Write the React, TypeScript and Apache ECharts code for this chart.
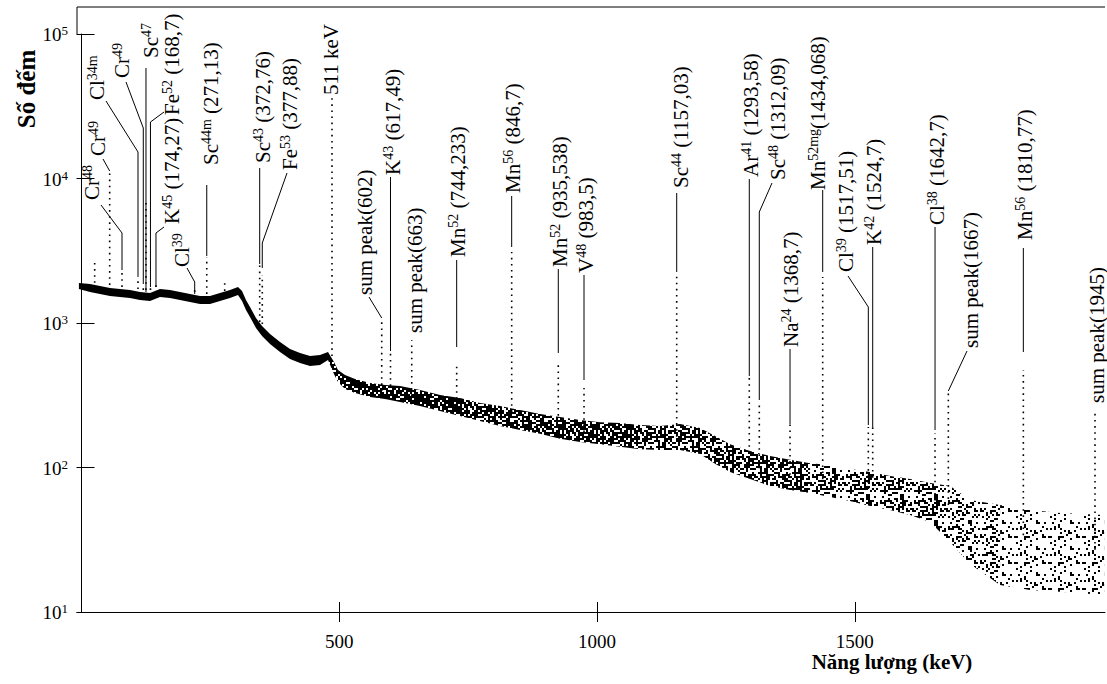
import React, { useEffect, useRef } from "react";
import * as echarts from "echarts";

// ---------- data ----------
// continuum band (energy in axis units, lower / upper envelope of the noisy counts)
const bandEnergy = [-5, 16.5, 35.9, 55.3, 74.7, 94.1, 113.5, 132.9, 152.3, 171.7, 191.1, 210.5, 229.9, 249.3, 268.7, 288.1, 303.6, 311.4, 319.1, 326.9, 338.5, 350.2, 365.7, 385.1, 404.5, 423.9, 443.3, 462.7, 478.2, 489.8, 497.6, 511.2, 530.6, 559.7, 588.8, 617.9, 656.7, 695.5, 734.3, 773.1, 811.9, 850.7, 889.5, 928.3, 967.1, 1005.9, 1044.7, 1083.5, 1122.3, 1161.1, 1199.9, 1229, 1258.1, 1296.9, 1335.7, 1374.5, 1413.3, 1452.1, 1490.9, 1529.7, 1568.5, 1607.3, 1646.1, 1684.9, 1723.7, 1781.9, 1840.1, 1898.3, 1983.7];
const bandHigh = [1891, 1861, 1803, 1746, 1719, 1692, 1639, 1613, 1719, 1692, 1639, 1587, 1538, 1538, 1613, 1692, 1775, 1665, 1443, 1290, 1083, 953, 839, 739, 661, 620, 591, 600, 630, 537, 473, 437, 410, 384, 372, 366, 344, 318, 303, 280, 266, 250, 235, 224, 213, 206, 203, 197, 194, 200, 188, 165, 145, 130, 120, 113, 107, 104, 97.6, 93.1, 87.4, 83.3, 78.1, 74.5, 59.6, 55.0, 50.8, 48.4, 46.9];
const bandLow = [1719, 1639, 1587, 1538, 1513, 1489, 1443, 1420, 1513, 1489, 1443, 1398, 1354, 1354, 1420, 1489, 1562, 1420, 1230, 1100, 923, 813, 716, 630, 563, 529, 504, 512, 555, 444, 391, 349, 328, 307, 298, 284, 266, 246, 227, 210, 194, 182, 171, 158, 150, 145, 139, 134, 132, 132, 124, 106, 93.1, 83.3, 74.5, 69.9, 66.6, 62.5, 58.6, 54.1, 50.8, 46.9, 42.0, 30.5, 21.5, 15.4, 14.2, 13.8, 13.1];

// peaks: position (axis units), top count, count of the continuum under it
const peakEnergy = [25.6, 54.7, 78.6, 109.6, 119.9, 125.1, 133.8, 144.5, 219.6, 243, 277.8, 345.7, 350.7, 485.9, 582.4, 599.4, 640.6, 727.8, 834.5, 924.9, 974.8, 1154.6, 1295.4, 1314.8, 1374.4, 1437.8, 1526.3, 1534.8, 1655.7, 1681.5, 1827, 1966];
const peakTop = [2600, 11100, 2250, 2010, 1830, 7100, 1770, 1860, 1690, 2860, 1920, 2600, 2150, 36100, 1050, 620, 760, 530, 3100, 530, 355, 2220, 423, 279, 203, 2080, 191, 191, 173, 328, 473, 238];
const peakBase = [1720, 1665, 1613, 1560, 1538, 1538, 1538, 1613, 1489, 1443, 1513, 923, 893, 591, 338, 333, 313, 271, 220, 188, 176, 163, 104, 99, 89, 83, 71, 70, 59, 55, 34, 27];

// annotations
const labelPeak = [2, 1, 3, 4, 5, 6, 7, 8, 9, 11, 12, 13, 14, 15, 16, 17, 18, 19, 20, 21, 22, 23, 24, 25, 26, 27, 28, 29, 30, 31];
const labelName = ["Cr", "Cr", "Cl", "Cr", "Sc", "Fe", "K", "Cl", "Sc", "Sc", "Fe", "511 keV", "sum peak(602)", "K", "sum peak(663)", "Mn", "Mn", "Mn", "V", "Sc", "Ar", "Sc", "Na", "Mn", "Cl", "K", "Cl", "sum peak(1667)", "Mn", "sum peak(1945)"];
const labelSup = ["48", "49", "34m", "49", "47", "52", "45", "39", "44m", "43", "53", "", "", "43", "", "52", "56", "52", "48", "44", "41", "48", "24", "52mg", "39", "42", "38", "", "56", ""];
const labelEnergy = ["", "", "", "", "", " (168,7)", " (174,27)", "", " (271,13)", " (372,76)", " (377,88)", "", "", " (617,49)", "", " (744,233)", " (846,7)", " (935,538)", " (983,5)", " (1157,03)", " (1293,58)", " (1312,09)", " (1368,7)", "(1434,068)", " (1517,51)", " (1524,7)", " (1642,7)", "", " (1810,77)", ""];

const xTicks = [500, 1000, 1500];
const xTitle = "Năng lượng (keV)";
const yTitle = "Số đếm";

// ---------- layout / style ----------
const labelPos: number[][] = [[91, 200], [97, 156], [96, 100], [121, 78], [150, 58], [171, 115], [171, 224], [181, 267], [210, 165], [262, 163], [289, 170], [330, 95], [364, 295], [392, 175], [414, 333], [457, 257], [512, 193], [559, 267], [585, 273], [680, 188], [750, 177], [777, 180], [790, 347], [817, 190], [845, 272], [873, 245], [936, 225], [970, 348], [1024, 240], [1096, 403]];
// null x = the x of the peak
const leaderPath: (number | null)[][][] = [
  [[101, 205], [null, 233], [null, 270]],
  [[103, 159], [null, 171]],
  [[106, 101], [null, 152], [null, 277]],
  [[126, 82], [null, 128], [null, 284]],
  [[null, 68], [null, 292]],
  [[164, 112], [null, 122], [null, 287]],
  [[164, 227], [null, 233], [null, 287]],
  [[187, 268], [null, 282], [null, 294]],
  [[null, 185], [null, 256]],
  [[null, 168], [null, 264]],
  [[287, 173], [null, 243], [null, 268]],
  [],
  [[369, 297], [null, 318]],
  [[null, 177], [null, 351]],
  [],
  [[null, 260], [null, 347]],
  [[null, 196], [null, 247]],
  [[null, 269], [null, 353]],
  [[null, 275], [null, 380]],
  [[null, 193], [null, 272]],
  [[null, 179], [null, 376]],
  [[772, 183], [null, 212], [null, 400]],
  [[null, 349], [null, 424]],
  [[null, 190], [null, 272]],
  [[848, 276], [null, 307], [null, 425]],
  [[null, 247], [null, 427]],
  [[null, 227], [null, 430]],
  [[967, 351], [null, 391]],
  [[null, 248], [null, 352]],
  [],
];
// band texture zones: first sample index of each zone and its ink density
const zoneStart = [0, 28, 38, 47, 56, 63, 65];
const zoneInk = [1, 0.8, 0.68, 0.55, 0.42, 0.3, 0.18];

const SERIF = "'Liberation Serif', 'Times New Roman', serif";
const X_MIN = -8.7;
const X_MAX = 1985.4;

function speckle(density: number) {
  if (density >= 1) return "#000";
  const w = 34, h = 26;
  const c = document.createElement("canvas");
  c.width = w; c.height = h;
  const g = c.getContext("2d")!;
  g.fillStyle = "#000";
  for (let i = 0; i < w; i += 2) {
    for (let j = 0; j < h; j += 2) {
      const hh = (((i + 1) * 2654435761) ^ ((j + 3) * 40503 * 97)) >>> 0;
      if ((hh % 997) / 997 < density) g.fillRect(i, j, 2, 2);
    }
  }
  return { image: c, repeat: "repeat" };
}

export default function App() {
  const ref = useRef<HTMLDivElement>(null);
  useEffect(() => {
    document.body.style.margin = "0";
    if (!ref.current) return;
    const chart = echarts.init(ref.current, undefined, { renderer: "svg" });
    const fills = zoneInk.map((d) => speckle(d));
    const commonX = { type: "value", min: X_MIN, max: X_MAX, splitLine: { show: false } };
    const commonY = { type: "log", logBase: 10, min: 10, max: 100000, splitLine: { show: false }, minorTick: { show: false } };
    chart.setOption({
      animation: false,
      backgroundColor: "#fff",
      grid: { left: 77, right: 2, top: 34, bottom: 72, containLabel: false },
      xAxis: [
        {
          ...commonX,
          axisLine: { show: true, lineStyle: { color: "#000", width: 1 } },
          axisTick: { show: true, inside: true, length: 10, customValues: xTicks, lineStyle: { color: "#000" } },
          axisLabel: { customValues: xTicks, formatter: (v: number) => String(v), color: "#000", fontFamily: SERIF, fontSize: 19, margin: 20 },
        },
        {
          ...commonX,
          position: "bottom",
          axisLine: { show: false },
          axisTick: { show: true, inside: false, length: 10, customValues: xTicks, lineStyle: { color: "#000" } },
          axisLabel: { show: false },
        },
      ],
      yAxis: [
        {
          ...commonY,
          axisLine: { show: true, lineStyle: { color: "#000", width: 1 } },
          axisTick: { show: true, inside: true, length: 13, lineStyle: { color: "#000" } },
          axisLabel: {
            color: "#000",
            margin: 9,
            formatter: (v: number) => `{b|10}{e|${Math.round(Math.log10(v))}}`,
            rich: {
              b: { fontSize: 19, fontFamily: SERIF, color: "#000", lineHeight: 20, verticalAlign: "bottom" },
              e: { fontSize: 13, fontFamily: SERIF, color: "#000", lineHeight: 13, verticalAlign: "top" },
            },
          },
        },
        {
          ...commonY,
          position: "left",
          axisLine: { show: false },
          axisTick: { show: true, inside: false, length: 5, lineStyle: { color: "#000" } },
          axisLabel: { show: false },
        },
      ],
      series: [
        {
          type: "custom",
          name: "continuum",
          silent: true,
          data: bandEnergy.map((e, i) => [e, bandLow[i], bandHigh[i]]),
          renderItem: (params: any, api: any) => {
            if (params.dataIndex !== 0) return null;
            const children: any[] = [];
            zoneStart.forEach((s, z) => {
              const end = z + 1 < zoneStart.length ? zoneStart[z + 1] : bandEnergy.length - 1;
              const pts: number[][] = [];
              for (let i = s; i <= end; i++) pts.push(api.coord([bandEnergy[i], bandHigh[i]]));
              for (let i = end; i >= s; i--) pts.push(api.coord([bandEnergy[i], bandLow[i]]));
              children.push({ type: "polygon", shape: { points: pts }, style: { fill: fills[z], stroke: null } });
            });
            return { type: "group", children };
          },
        },
        {
          type: "custom",
          name: "peaks",
          silent: true,
          data: peakEnergy.map((e, i) => [e, peakBase[i], peakTop[i]]),
          renderItem: (params: any, api: any) => {
            const a = api.coord([api.value(0), api.value(1)]);
            const b = api.coord([api.value(0), api.value(2)]);
            return {
              type: "line",
              shape: { x1: a[0], y1: a[1], x2: b[0], y2: b[1] },
              style: { stroke: "#000", lineWidth: 1.6, lineDash: [1.6, 4.5] },
            };
          },
        },
      ],
    });

    const px = (e: number, v: number) => chart.convertToPixel({ xAxisIndex: 0, yAxisIndex: 0 }, [e, v]) as number[];
    const graphics: any[] = [];
    const tl = px(X_MIN, 100000);
    graphics.push({ type: "line", shape: { x1: tl[0], y1: 7, x2: tl[0], y2: tl[1] }, style: { stroke: "#000", lineWidth: 1 }, silent: true });
    graphics.push({ type: "line", shape: { x1: tl[0], y1: 7, x2: px(X_MAX, 100000)[0], y2: 7 }, style: { stroke: "#000", lineWidth: 1 }, silent: true });

    const rich = {
      n: { fontSize: 21, fontFamily: SERIF, fill: "#000", lineHeight: 22, verticalAlign: "bottom" },
      s: { fontSize: 14, fontFamily: SERIF, fill: "#000", lineHeight: 14, verticalAlign: "top" },
    };
    labelName.forEach((name, i) => {
      const pk = labelPeak[i];
      const peakX = px(peakEnergy[pk], peakTop[pk])[0];
      const text = `{n|${name}}` + (labelSup[i] ? `{s|${labelSup[i]}}` : "") + (labelEnergy[i] ? `{n|${labelEnergy[i]}}` : "");
      graphics.push({
        type: "text",
        x: labelPos[i][0],
        y: labelPos[i][1],
        rotation: Math.PI / 2,
        silent: true,
        style: { text, rich, align: "left", verticalAlign: "middle", fill: "#000", fontFamily: SERIF, fontSize: 21 },
      });
      const path = leaderPath[i];
      if (path.length > 1) {
        graphics.push({
          type: "polyline",
          silent: true,
          shape: { points: path.map(([x, y]) => [x === null ? peakX : x, y as number]) },
          style: { stroke: "#000", lineWidth: 1, fill: null },
        });
      }
    });

    graphics.push({
      type: "text", x: 26, y: 89, rotation: Math.PI / 2, silent: true,
      style: { text: yTitle, fontFamily: SERIF, fontWeight: "bold", fontSize: 25, fill: "#000", align: "center", verticalAlign: "middle" },
    });
    graphics.push({
      type: "text", x: 892, y: 662, silent: true,
      style: { text: xTitle, fontFamily: SERIF, fontWeight: "bold", fontSize: 21, fill: "#000", align: "center", verticalAlign: "middle" },
    });

    chart.setOption({ graphic: graphics });
    return () => chart.dispose();
  }, []);
  return <div ref={ref} style={{ width: 1107, height: 684 }} />;
}
